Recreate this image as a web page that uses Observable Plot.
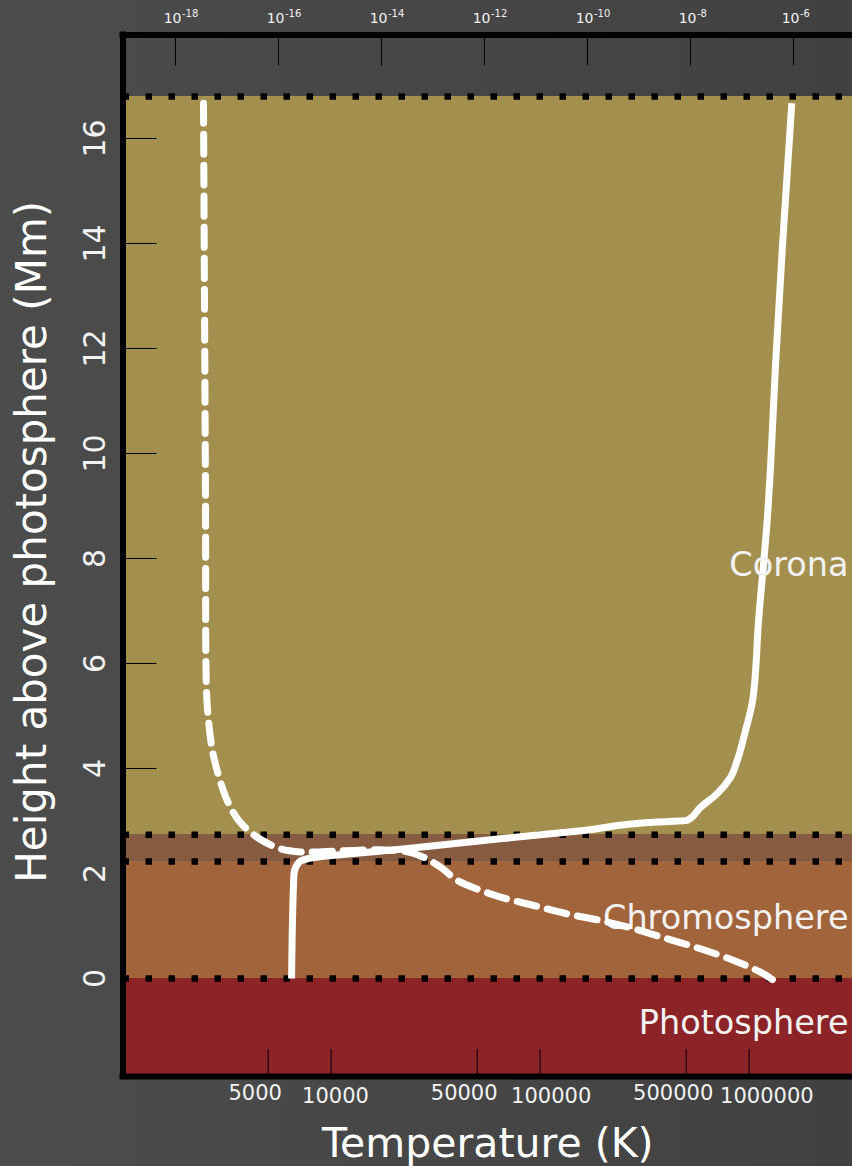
<!DOCTYPE html>
<html><head><meta charset="utf-8">
<script src="https://cdn.jsdelivr.net/npm/d3@7"></script>
<script src="https://cdn.jsdelivr.net/npm/@observablehq/plot@0.6"></script>
<style>
html,body{margin:0;padding:0;}
body{width:852px;height:1166px;background:linear-gradient(to right,#4c4c4c,#414141);overflow:hidden;font-family:"DejaVu Sans",sans-serif}
#chart{position:relative;width:852px;height:1166px}
#chart svg{position:absolute;left:0;top:0}
</style></head><body><div id="chart"></div>
<script>
// ---- data ----
// Temperature profile: height above photosphere (Mm) and temperature (K)
const tempHeight = [0, 1.99, 2.21, 2.28, 2.46, 2.66, 2.82, 2.98, 3.01, 3.26, 3.52, 3.83, 4.15, 4.72, 5.30, 6.82, 8.72, 11.96, 13.87, 16.67];
const tempK      = [6470, 6640, 7000, 7700, 21500, 64500, 162000, 363000, 505000, 585000, 703000, 815000, 877000, 961000, 1040000, 1110000, 1220000, 1350000, 1440000, 1600000];
// Density profile: height (Mm) and mass density (top axis)
const densHeight = [16.67, 12.91, 9.10, 5.49, 4.91, 4.34, 3.87, 3.39, 3.01, 2.69, 2.47, 2.41, 2.43, 2.45, 2.42, 2.31, 2.12, 1.87, 1.68, 1.55, 1.39, 1.23, 1.105, 0.947, 0.756, 0.566, 0.343, 0.12, -0.038];
const density    = [3.50e-18, 3.66e-18, 3.83e-18, 4.00e-18, 4.38e-18, 5.22e-18, 6.84e-18, 1.01e-17, 1.69e-17, 3.85e-17, 1.09e-16, 2.67e-16, 1.60e-15, 9.57e-15, 2.92e-14, 6.55e-14, 1.40e-13, 2.95e-13, 8.36e-13, 2.05e-12, 9.06e-12, 4.04e-11, 1.79e-10, 7.93e-10, 3.53e-9, 1.56e-8, 6.93e-8, 2.29e-7, 4.15e-7];
// Atmospheric layers (Mm)
const bandNames  = ["Photosphere", "Chromosphere", "Transition", "Corona"];
const bandBottom = [-1.87, 0, 2.23, 2.74];
const bandTop    = [0, 2.23, 2.74, 16.8];
const boundaries = [0, 2.23, 2.74, 16.8];
const regionLabels = ["Corona", "Chromosphere", "Photosphere"];
const regionLabelHeight = [7.87, 1.14, -0.86];
// Ticks
const tempTicks = [5000, 10000, 50000, 100000, 500000, 1000000];
const densTickExp = [-18, -16, -14, -12, -10, -8, -6];
const heightTicks = [0, 2, 4, 6, 8, 10, 12, 14, 16];
const heightTickMarks = [4, 6, 8, 10, 12, 14, 16];

// ---- styles ----
const bandColor = {Photosphere: "#8c2427", Chromosphere: "#a2643a", Transition: "#875b40", Corona: "#a3904e"};
const textColor = "#f2f2f2";
const W = 852, H = 1166;
const margins = {marginTop: 34.5, marginBottom: 90, marginLeft: 122.5, marginRight: 0};
const yDomain = [-1.867, 17.971];
const tempDomain = [10 ** 3.0043, 10 ** 6.4947];
const densDomain = [10 ** -19.019, 10 ** -4.854];

const bands = bandNames.map((n, i) => ({name: n, lo: bandBottom[i], hi: bandTop[i]}));
const tempData = tempK.map((t, i) => ({T: t, h: tempHeight[i]}));
const densData = density.map((d, i) => ({rho: d, h: densHeight[i]}));
const labels = regionLabels.map((n, i) => ({name: n, h: regionLabelHeight[i]}));
const densTicks = densTickExp.map(e => ({v: 10 ** e, e}));
const isFive = d => String(d)[0] === "5";

const common = {
  width: W, height: H, ...margins,
  style: {background: "transparent", fontFamily: "DejaVu Sans, sans-serif", color: textColor, overflow: "visible"},
  y: {domain: yDomain, axis: null}
};

const p1 = Plot.plot({
  ...common,
  x: {type: "log", domain: tempDomain, axis: null},
  marks: [
    Plot.rect(bands, {y1: "lo", y2: "hi", fill: d => bandColor[d.name]}),
    Plot.ruleY(boundaries, {stroke: "black", strokeWidth: 6.5, strokeDasharray: "6.5,16.5"}),
    Plot.axisY(heightTickMarks, {anchor: "left", tickSize: -34, stroke: "black", fill: "none", label: null}),
    Plot.axisX(tempTicks, {anchor: "bottom", tickSize: -27, stroke: "black", fill: "none", label: null}),
    Plot.text(tempTicks.filter(isFive), {x: d => d, text: d => String(d), frameAnchor: "bottom", dx: -13, dy: 17,
      textAnchor: "middle", lineAnchor: "middle", fontSize: 21, fill: textColor}),
    Plot.text(tempTicks.filter(d => !isFive(d)), {x: d => d, text: d => String(d), frameAnchor: "bottom", dx: -29, dy: 20,
      textAnchor: "start", lineAnchor: "middle", fontSize: 21, fill: textColor}),
    Plot.line(tempData, {x: "T", y: "h", stroke: "white", strokeWidth: 7, curve: "monotone-y", strokeLinecap: "butt"}),
    Plot.text(heightTicks, {y: d => d, text: d => String(d), frameAnchor: "left", dx: -28, rotate: -90,
      textAnchor: "middle", lineAnchor: "middle", fontSize: 30, fill: textColor}),
    Plot.text(labels, {y: "h", text: "name", frameAnchor: "right", dx: -4, textAnchor: "end",
      lineAnchor: "middle", fontSize: 33.5, fill: textColor}),
    Plot.text(["Height above photosphere (Mm)"], {frameAnchor: "left", dx: -90, dy: -14, rotate: -90,
      textAnchor: "middle", lineAnchor: "middle", fontSize: 42, fill: "white"}),
    Plot.text(["Temperature (K)"], {frameAnchor: "bottom", dy: 67, textAnchor: "middle",
      lineAnchor: "middle", fontSize: 41, fill: "white"}),
    Plot.ruleX([tempDomain[0]], {y1: yDomain[0], y2: yDomain[1], stroke: "black", strokeWidth: 6, strokeLinecap: "square"}),
    Plot.ruleY(yDomain, {stroke: "black", strokeWidth: 6, strokeLinecap: "square"})
  ]
});

const p2 = Plot.plot({
  ...common,
  x: {type: "log", domain: densDomain, axis: null},
  marks: [
    Plot.line(densData, {x: "rho", y: "h", stroke: "white", strokeWidth: 7, strokeDasharray: "20,11", curve: "catmull-rom"}),
    Plot.axisX(densTicks.map(d => d.v), {anchor: "top", tickSize: -30, stroke: "black", fill: "none", label: null}),
    Plot.text(densTicks, {x: "v", text: () => "10", frameAnchor: "top", dx: 6, dy: -16,
      textAnchor: "end", lineAnchor: "middle", fontSize: 14, fill: textColor}),
    Plot.text(densTicks, {x: "v", text: d => String(d.e), frameAnchor: "top", dx: 6.5, dy: -21,
      textAnchor: "start", lineAnchor: "middle", fontSize: 10, fill: textColor})
  ]
});

const chart = document.getElementById("chart");
chart.appendChild(p1);
chart.appendChild(p2);
</script>
</body></html>
